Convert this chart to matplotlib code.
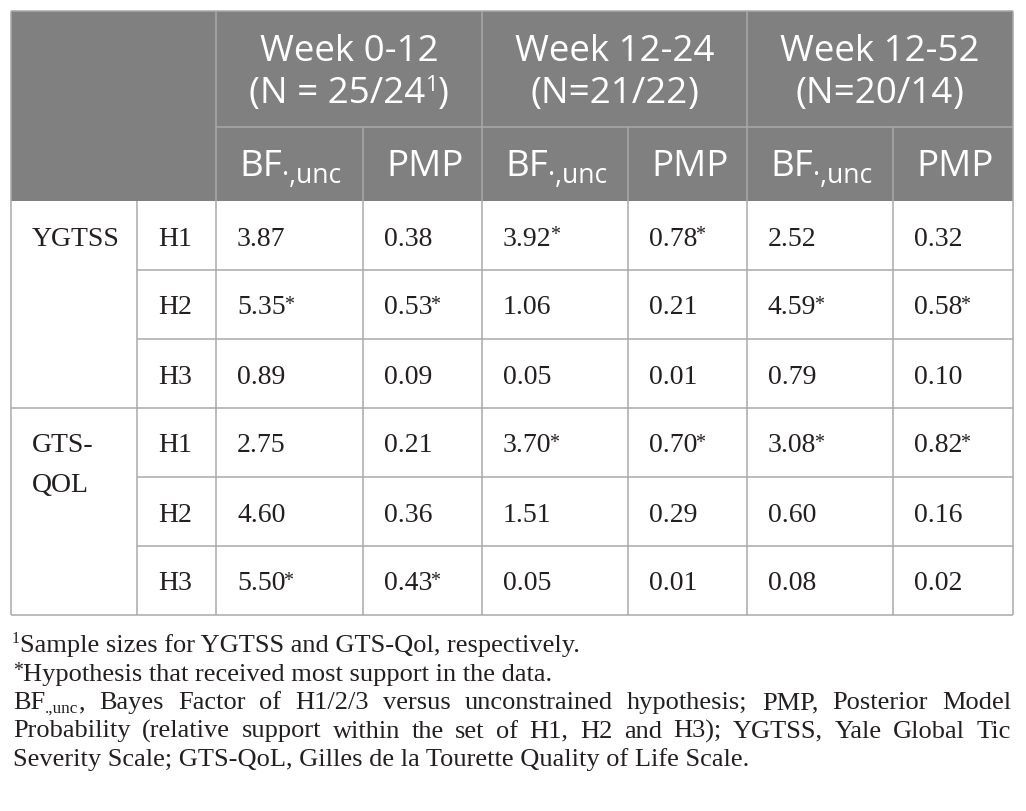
import matplotlib
matplotlib.use("Agg")
import matplotlib.pyplot as plt
from matplotlib.patches import Rectangle

# ---------------- data ----------------
measures = ["YGTSS", "GTS-\nQOL"]
hypotheses = ["H1", "H2", "H3"]
periods = ["Week 0-12", "Week 12-24", "Week 12-52"]
n_text = ["(N = 25/24", "(N=21/22", "(N=20/14"]
n_sup = ["1", "", ""]
sub_headers = ["BF", "PMP"]

# rows: YGTSS H1,H2,H3, GTS-QOL H1,H2,H3
bf_0_12 = [3.87, 5.35, 0.89, 2.75, 4.60, 5.50]
pmp_0_12 = [0.38, 0.53, 0.09, 0.21, 0.36, 0.43]
bf_12_24 = [3.92, 1.06, 0.05, 3.70, 1.51, 0.05]
pmp_12_24 = [0.78, 0.21, 0.01, 0.70, 0.29, 0.01]
bf_12_52 = [2.52, 4.59, 0.79, 3.08, 0.60, 0.08]
pmp_12_52 = [0.32, 0.58, 0.10, 0.82, 0.16, 0.02]
# most supported hypothesis (row index) per period
best_0_12 = [1, 5]
best_12_24 = [0, 3]
best_12_52 = [1, 3]

footnote_1 = "Sample sizes for YGTSS and GTS-Qol, respectively."
footnote_2 = "Hypothesis that received most support in the data."
footnote_3 = "Bayes Factor of H1/2/3 versus unconstrained hypothesis; PMP, Posterior Model"
footnote_4 = "Probability (relative support within the set of H1, H2 and H3); YGTSS, Yale Global Tic"
footnote_5 = "Severity Scale; GTS-QoL, Gilles de la Tourette Quality of Life Scale."

# ---------------- layout ----------------
W, H = 1026, 811
fig = plt.figure(figsize=(W / 100, H / 100), dpi=100)
ax = fig.add_axes([0, 0, 1, 1])
ax.set_xlim(0, W)
ax.set_ylim(H, 0)
ax.axis("off")
fig.canvas.draw()
renderer = fig.canvas.get_renderer()

SANS = "Open Sans"
SERIF = "Liberation Serif"
HEAD_BG = "#7f807f"
LINE = "#a9a9a9"
TXT = "#231f20"

col_x = [11, 137, 216, 363, 482, 628, 747, 893, 1013]
head_y = [11, 127, 201]
row_h = 69
body_y = [201 + row_h * i for i in range(7)]

HEAD_SIZE = 26.5
BODY_SIZE = 20
FOOT_SIZE = 19


def measure(s, size, family):
    t = ax.text(0, 0, s, fontsize=size, family=family)
    w = t.get_window_extent(renderer).width
    t.remove()
    return w


def runs_width(runs, family):
    return sum(measure(s, sz, family) for s, sz, dy in runs)


def draw_runs(x, y, runs, family, color, ha="left"):
    total = runs_width(runs, family)
    if ha == "center":
        x = x - total / 2
    for s, sz, dy in runs:
        ax.text(x, y - dy, s, fontsize=sz, family=family, color=color,
                va="baseline", ha="left")
        x += measure(s, sz, family)
    return total


def hline(x0, x1, y, color=LINE):
    ax.plot([x0, x1], [y, y], color=color, lw=1.1, solid_capstyle="butt")


def vline(x, y0, y1, color=LINE):
    ax.plot([x, x], [y0, y1], color=color, lw=1.1, solid_capstyle="butt")


# header background
ax.add_patch(Rectangle((col_x[0], head_y[0]), col_x[-1] - col_x[0],
                       head_y[2] - head_y[0], facecolor=HEAD_BG, edgecolor="none"))

# header lines
hline(col_x[2], col_x[-1], head_y[1])
for x in (col_x[2], col_x[4], col_x[6]):
    vline(x, head_y[0], head_y[2])
for x in (col_x[3], col_x[5], col_x[7]):
    vline(x, head_y[1], head_y[2])

# header texts
for p in range(3):
    xc = (col_x[2 + 2 * p] + col_x[4 + 2 * p]) / 2
    draw_runs(xc, 61, [(periods[p], HEAD_SIZE, 0)], SANS, "white", ha="center")
    r = [(n_text[p], HEAD_SIZE, 0)]
    if n_sup[p]:
        r.append((n_sup[p], HEAD_SIZE * 0.6, 12))
    r.append((")", HEAD_SIZE, 0))
    draw_runs(xc, 103, r, SANS, "white", ha="center")
    xb = col_x[2 + 2 * p] + 23
    draw_runs(xb, 176, [(sub_headers[0], HEAD_SIZE, 0),
                        ("\u00b7,unc", HEAD_SIZE * 0.72, -7)], SANS, "white")
    draw_runs(col_x[3 + 2 * p] + 23, 176, [(sub_headers[1], HEAD_SIZE, 0)], SANS, "white")

# body lines
for i in range(1, 6):
    x0 = col_x[0] if i == 3 else col_x[1]
    hline(x0, col_x[-1], body_y[i])
for x in col_x[1:-1]:
    vline(x, body_y[0], body_y[-1])
# outer border
hline(col_x[0], col_x[-1], head_y[0])
hline(col_x[0], col_x[-1], body_y[-1])
vline(col_x[0], head_y[0], body_y[-1])
vline(col_x[-1], head_y[0], body_y[-1])

# body text
PAD = 21
BASE = 44.5
for g, m in enumerate(measures):
    y0 = body_y[3 * g] + BASE
    for k, line in enumerate(m.split("\n")):
        ax.text(col_x[0] + PAD, y0 + 40 * k, line, fontsize=BODY_SIZE, family=SERIF,
                color=TXT, va="baseline", ha="left")

columns = [(bf_0_12, best_0_12), (pmp_0_12, best_0_12),
           (bf_12_24, best_12_24), (pmp_12_24, best_12_24),
           (bf_12_52, best_12_52), (pmp_12_52, best_12_52)]
for i in range(6):
    y = body_y[i] + BASE
    ax.text(col_x[1] + PAD, y, hypotheses[i % 3], fontsize=BODY_SIZE, family=SERIF,
            color=TXT, va="baseline", ha="left")
    for c, (vals, best) in enumerate(columns):
        x = col_x[2 + c] + PAD
        s = f"{vals[i]:.2f}"
        ax.text(x, y, s, fontsize=BODY_SIZE, family=SERIF, color=TXT,
                va="baseline", ha="left")
        if i in best:
            ax.text(x + measure(s, BODY_SIZE, SERIF) - 2, y - 5, "*",
                    fontsize=BODY_SIZE * 0.72, family=SERIF, color=TXT,
                    va="baseline", ha="left")

# footnotes
FX = 13
FR = 1011
fy = [652, 680.5, 709, 737.5, 766]
draw_runs(FX - 1, fy[0], [("1", FOOT_SIZE * 0.6, 9), (footnote_1, FOOT_SIZE, 0)], SERIF, TXT)
draw_runs(FX, fy[1], [("*", FOOT_SIZE * 0.75, 4), (footnote_2, FOOT_SIZE, 0)], SERIF, TXT)


def justify(y, words):
    widths = [runs_width(w, SERIF) for w in words]
    gap = (FR - FX - sum(widths)) / (len(words) - 1)
    x = FX
    for w, wd in zip(words, widths):
        draw_runs(x, y, w, SERIF, TXT)
        x += wd + gap


words3 = [[("BF", FOOT_SIZE, 0), (".,unc", FOOT_SIZE * 0.65, -4), (",", FOOT_SIZE, 0)]]
words3 += [[(w, FOOT_SIZE, 0)] for w in footnote_3.split(" ")]
justify(fy[2], words3)
justify(fy[3], [[(w, FOOT_SIZE, 0)] for w in footnote_4.split(" ")])
ax.text(FX, fy[4], footnote_5, fontsize=FOOT_SIZE, family=SERIF, color=TXT,
        va="baseline", ha="left")

fig.savefig("out.png", dpi=100, facecolor="white")
